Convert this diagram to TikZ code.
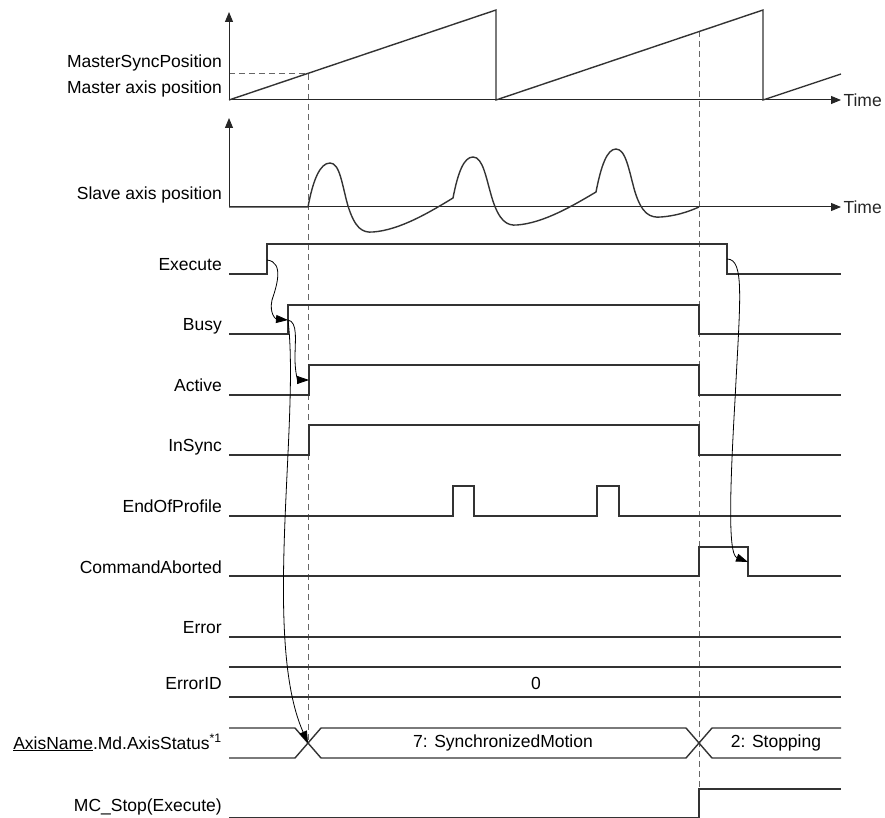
\documentclass[tikz,border=0pt]{standalone}
\usepackage{fontspec}
\setmainfont{Liberation Sans}
\usetikzlibrary{arrows.meta}

\begin{document}
\begin{tikzpicture}[
    x=1pt, y=-1pt,
    lbl/.style={anchor=base east, font=\fontsize{17.5}{20}\selectfont, inner sep=0pt},
    txt/.style={font=\fontsize{17.5}{20}\selectfont, inner sep=0pt},
    sig/.style={line width=1.4pt, black!80},
    axis/.style={-{Triangle[length=10pt,width=8pt]}, line width=1pt, black!85},
    guide/.style={dash pattern=on 6pt off 4pt, line width=0.9pt, black!60},
    arrow/.style={-{Triangle[length=12pt,width=8pt]}, line width=0.8pt},
]
\useasboundingbox (0,0) rectangle (885,818);

% Guides
\draw[guide] (229,73) -- (308,73) -- (308,743);
\draw[guide] (699,31) -- (699,789);

% Master axis position
\draw[axis] (229,100) -- (229,12);
\draw[axis] (229,100) -- (841,100) node[txt, anchor=west, xshift=2pt] (time-m) {Time};
\draw[sig] (229,100) -- (496,10) -- (496,100) -- (763,10) -- (763,100) -- (841,74);

% Slave axis position
\draw[axis] (229,207) -- (229,118);
\draw[axis] (229,207) -- (841,207) node[txt, anchor=west, xshift=2pt] (time-s) {Time};
\draw[sig] (229,207) -- (308,207)
    .. controls (313,180) and (320,163) .. (330,163)
    .. controls (340,163) and (342,185) .. (348,206)
    .. controls (355,228) and (362,233) .. (373,232)
    .. controls (400,230) and (430,212) .. (453,198)
    .. controls (458,172) and (464,157) .. (473,157)
    .. controls (483,157) and (486,178) .. (492,198)
    .. controls (499,221) and (507,226) .. (517,225)
    .. controls (544,223) and (574,205) .. (596,192)
    .. controls (601,166) and (607,149) .. (616,149)
    .. controls (626,149) and (629,171) .. (635,192)
    .. controls (642,214) and (650,218) .. (661,217)
    .. controls (675,216) and (688,212) .. (699,207);

% Labels
\node[lbl] (lbl-msync) at (222,68) {MasterSyncPosition};
\node[lbl] (lbl-master) at (222,94) {Master axis position};
\node[lbl] (lbl-slave) at (222,200) {Slave axis position};
\node[lbl] (lbl-exe) at (222,270) {Execute};
\node[lbl] (lbl-busy) at (222,330) {Busy};
\node[lbl] (lbl-act) at (222,391) {Active};
\node[lbl] (lbl-sync) at (222,451) {InSync};
\node[lbl] (lbl-eop) at (222,512) {EndOfProfile};
\node[lbl] (lbl-abort) at (222,573) {CommandAborted};
\node[lbl] (lbl-err) at (222,633) {Error};
\node[lbl] (lbl-errid) at (222,689) {ErrorID};
\node[lbl] (lbl-stat) at (222,749) {\underline{AxisName}.Md.AxisStatus\textsuperscript{*1}};
\node[lbl] (lbl-stop) at (222,811) {MC\_Stop(Execute)};

% Signals
\draw[sig] (229,274) -- (267,274) -- (267,244) -- (727,244) -- (727,274) -- (841,274);
\draw[sig] (229,334) -- (288,334) -- (288,305) -- (699,305) -- (699,334) -- (841,334);
\draw[sig] (229,395) -- (309,395) -- (309,365) -- (699,365) -- (699,395) -- (841,395);
\draw[sig] (229,455) -- (309,455) -- (309,425) -- (699,425) -- (699,455) -- (841,455);
\draw[sig] (229,516) -- (453,516) -- (453,486) -- (474,486) -- (474,516) -- (597,516)
    -- (597,486) -- (619,486) -- (619,516) -- (841,516);
\draw[sig] (229,576) -- (699,576) -- (699,547) -- (748,547) -- (748,576) -- (841,576);
\draw[sig] (229,637) -- (841,637);
\draw[sig] (229,667) -- (841,667);
\draw[sig] (229,697) -- (841,697);
\node[txt] (errid-val) at (536,683) {0};
\draw[sig] (229,728) -- (295,728) -- (321,758) -- (686,758) -- (712,728) -- (841,728);
\draw[sig] (229,758) -- (295,758) -- (321,728) -- (686,728) -- (712,758) -- (841,758);
\node[txt] (stat-sync) at (503,743) {7: SynchronizedMotion};
\node[txt] (stat-stop) at (776,743) {2: Stopping};
\draw[sig] (229,818) -- (699,818) -- (699,789) -- (841,789);

% Cause and effect
\coordinate (exe-up) at (267,260);
\coordinate (busy-up) at (288,320);
\coordinate (act-up) at (309,380);
\coordinate (stat-x) at (308,743);
\coordinate (exe-down) at (727,259);
\coordinate (abort-down) at (748,562);

\draw[arrow] (exe-up) .. controls (285,262) and (276,288) .. (272,300)
    .. controls (269,314) and (276,319) .. (busy-up);
\draw[arrow] (busy-up) .. controls (298,322) and (295,340) .. (295,358)
    .. controls (295,374) and (298,380) .. (act-up);
\draw[arrow] (busy-up) .. controls (300,420) and (262,640) .. (stat-x);
\draw[arrow] (exe-down) .. controls (745,259) and (740,300) .. (735,400)
    .. controls (728,520) and (730,555) .. (abort-down);

\end{tikzpicture}
\end{document}
